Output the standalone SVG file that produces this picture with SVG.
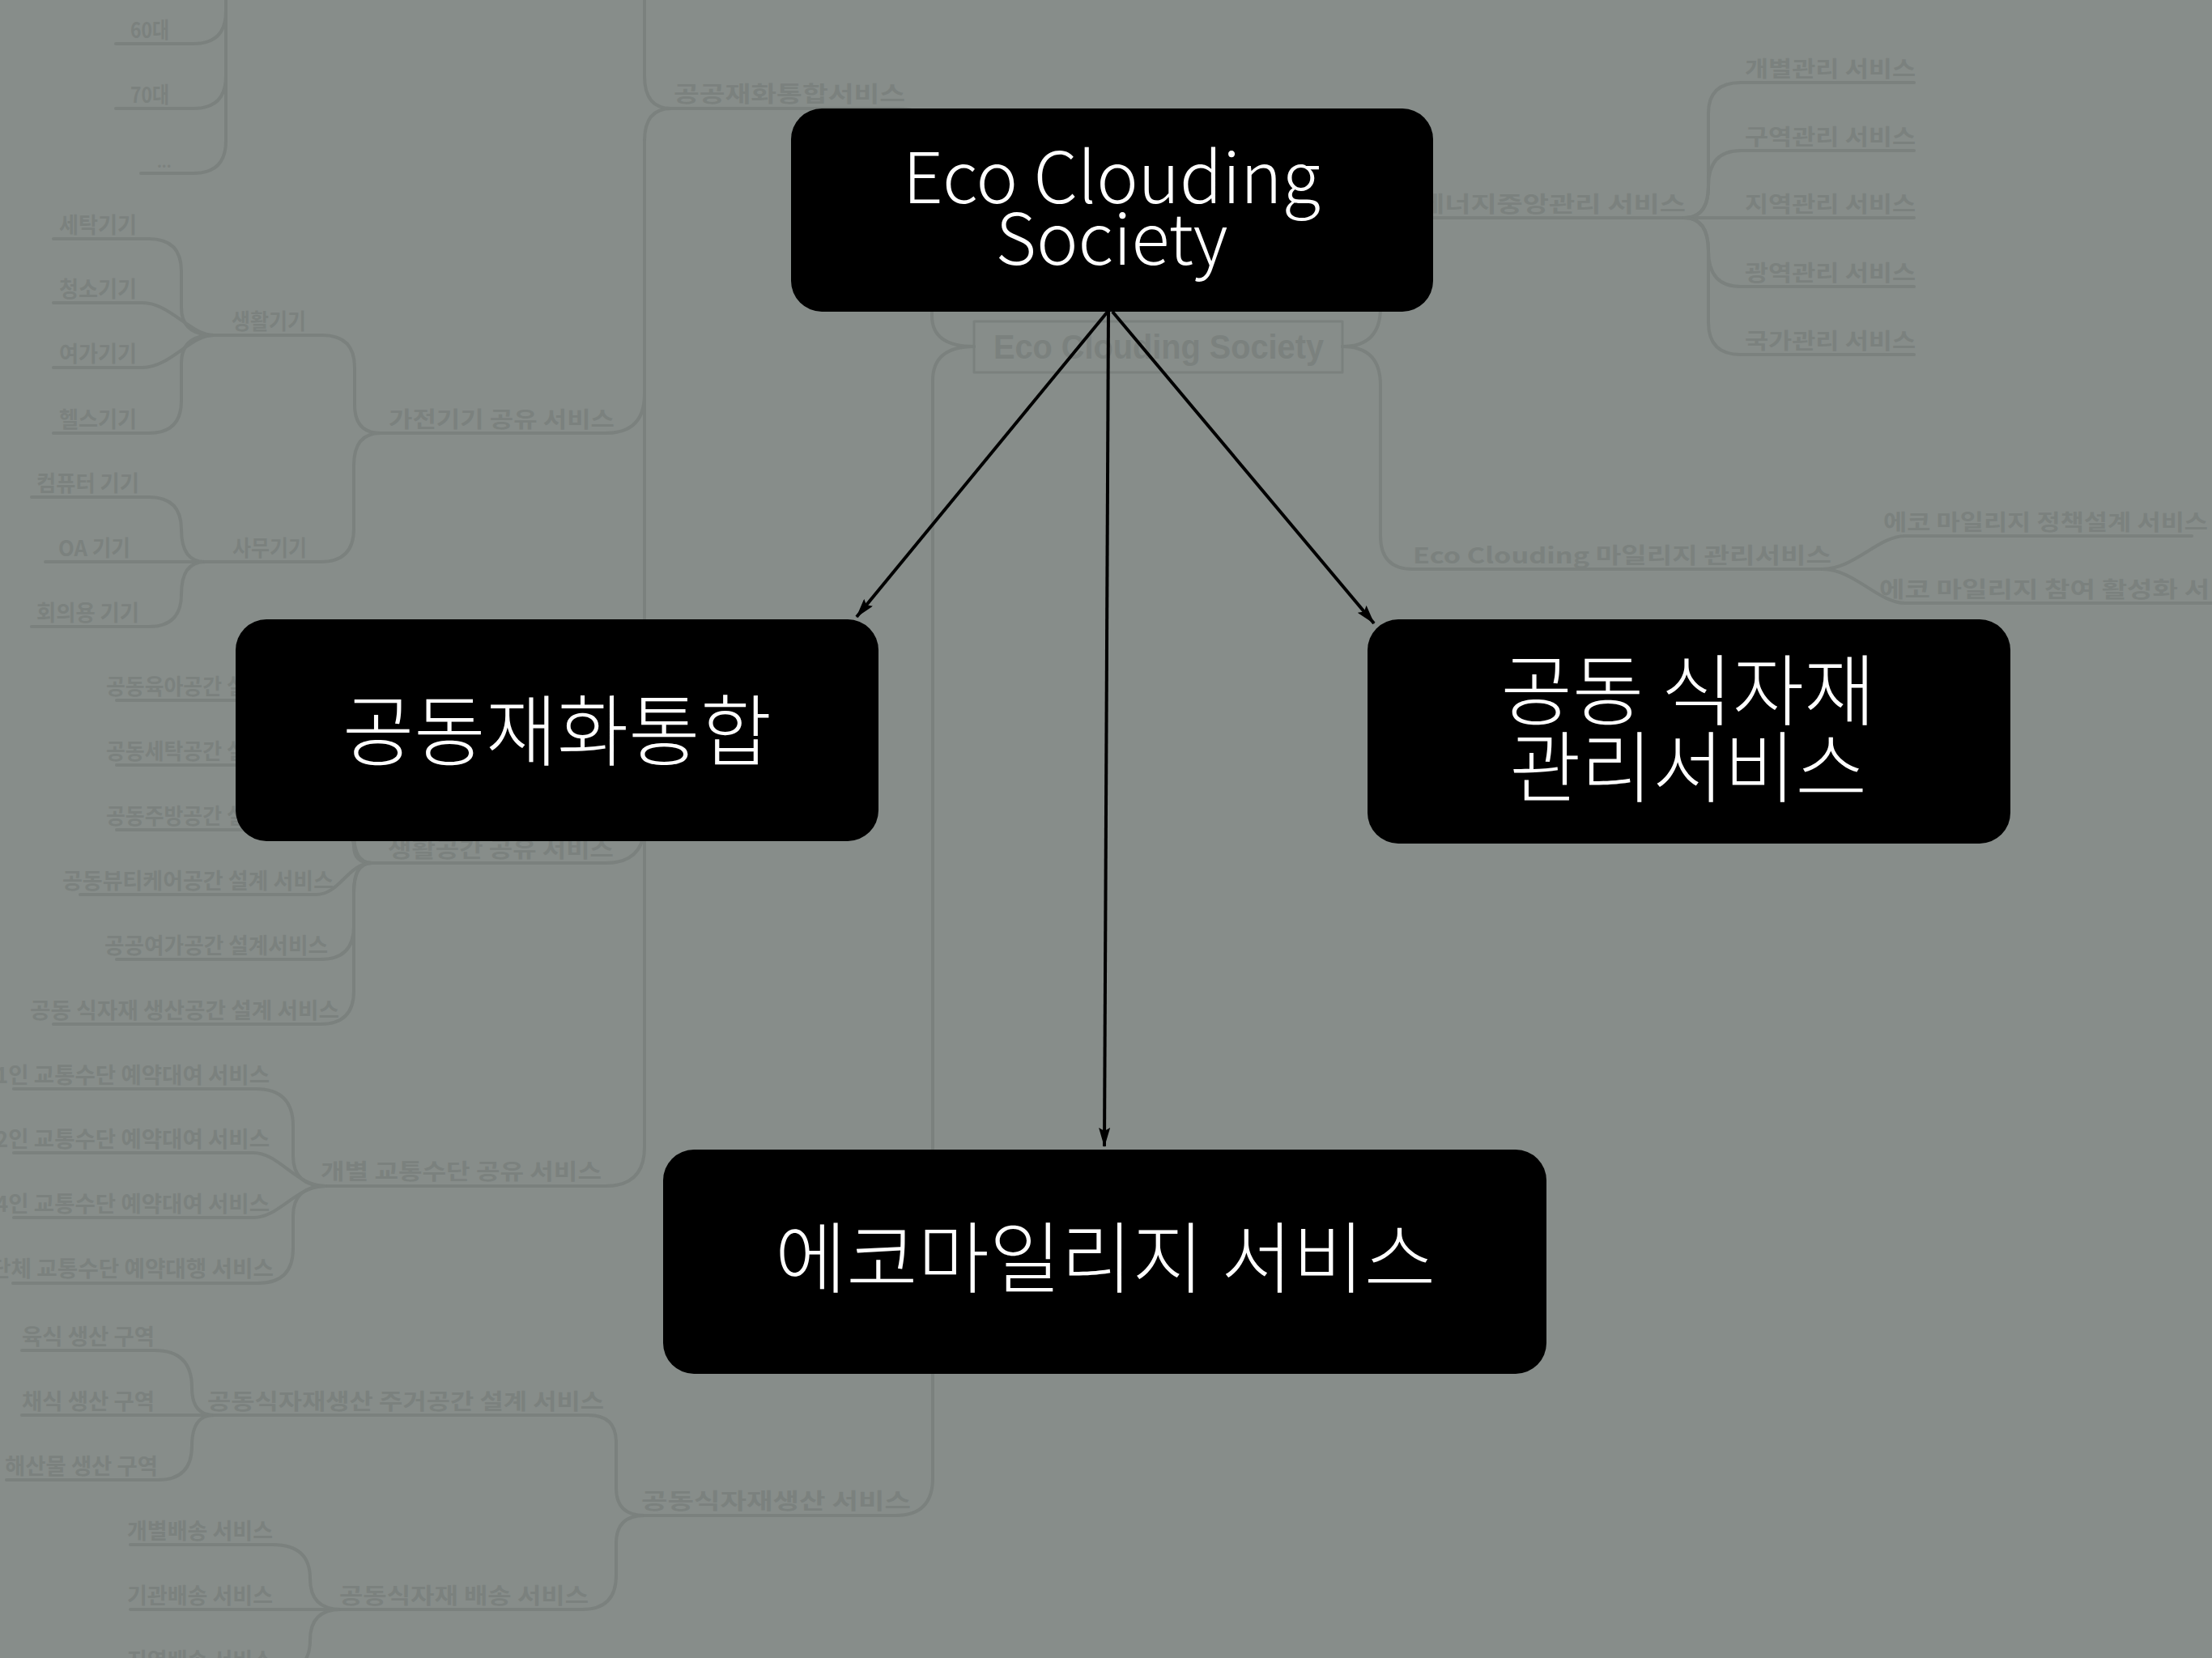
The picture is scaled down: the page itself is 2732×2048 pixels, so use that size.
<svg xmlns="http://www.w3.org/2000/svg" width="2732" height="2048" viewBox="0 0 2732 2048">
<style>
.bgl{fill:none;stroke:#7b817e;stroke-width:4;stroke-linecap:round;stroke-linejoin:round}
.bgt{font-family:"Noto Sans CJK KR","Liberation Sans",sans-serif;font-weight:700;font-size:27px;fill:#7b817e}
.box{fill:#000}
.lbl{font-family:"Noto Sans CJK KR","Noto Sans",sans-serif;fill:#fff;text-anchor:middle}
.conn{fill:none;stroke:#000;stroke-width:4}
</style>
<defs>
<marker id="ah" markerUnits="userSpaceOnUse" viewBox="0 0 24 14" markerWidth="24" markerHeight="14" refX="23" refY="7" orient="auto">
<path d="M0,0 L24,7 L0,14 L4,7 z" fill="#000"/>
</marker>
</defs>
<rect width="2732" height="2048" fill="#878d8a"/>
<g id="background-mindmap">
<g class="bgl">
<path d="M143,54 H239 Q279,54 279,14 V-60"/>
<path d="M143,134 H239 Q279,134 279,94 V-60"/>
<path d="M174,214 H239 Q279,214 279,174 V-60"/>
<path d="M66,295 H184 Q224,295 224,335 V380 Q224,414 264,414"/>
<path d="M66,374 H176 C210,374 235,414 264,414"/>
<path d="M66,454 H176 C210,454 235,414 264,414"/>
<path d="M66,535 H184 Q224,535 224,495 V448 Q224,414 264,414"/>
<path d="M264,414 H398 Q438,414 438,454 V500 Q438,535 470,535"/>
<path d="M39,614 H184 Q224,614 224,654 Q224,694 253,694"/>
<path d="M56,694 H253"/>
<path d="M39,774 H184 Q224,774 224,734 Q224,694 253,694"/>
<path d="M253,694 H396 Q437,694 437,653 V575 Q437,535 470,535"/>
<path d="M460,535 H748 Q796,535 796,487 V174 Q796,134 829,134"/>
<path d="M796,-60 V94 Q796,134 829,134"/>
<path d="M829,134 H1110 Q1151,134 1151,175 V390 Q1151,428 1203,428"/>
<path d="M144,865 H396 Q437,865 437,906 V1030 Q437,1066 459,1066"/>
<path d="M144,945 H396 Q437,945 437,986 V1030 Q437,1066 459,1066"/>
<path d="M144,1025 H396 Q437,1025 437,1045 Q437,1066 459,1066"/>
<path d="M99,1105 H390 C420,1105 430,1066 459,1066"/>
<path d="M144,1185 H396 Q437,1185 437,1144 V1102 Q437,1066 459,1066"/>
<path d="M66,1265 H396 Q437,1265 437,1224 V1102 Q437,1066 459,1066"/>
<path d="M459,1066 H748 Q796,1066 796,1018 V174"/>
<path d="M402,1465 H748 Q796,1465 796,1417 V174"/>
<path d="M17,1345 H316 Q362,1345 362,1391 V1428 Q362,1465 402,1465"/>
<path d="M17,1424 H313 C345,1424 365,1465 402,1465"/>
<path d="M17,1504 H313 C345,1504 365,1465 402,1465"/>
<path d="M16,1585 H319 Q362,1585 362,1542 V1502 Q362,1465 402,1465"/>
<path d="M27,1668 H191 Q237,1668 237,1714 Q237,1748 264,1748"/>
<path d="M27,1748 H264"/>
<path d="M8,1828 H195 Q237,1828 237,1786 Q237,1748 264,1748"/>
<path d="M264,1748 H727 Q761,1748 761,1782 V1838 Q761,1872 796,1872"/>
<path d="M161,1908 H337 Q383,1908 383,1950 Q383,1988 421,1988"/>
<path d="M161,1988 H421"/>
<path d="M161,2068 H337 Q383,2068 383,2026 Q383,1988 421,1988"/>
<path d="M421,1988 H719 Q761,1988 761,1946 V1906 Q761,1872 796,1872"/>
<path d="M796,1872 H1106 Q1152,1872 1152,1826 V470 Q1152,428 1203,428"/>
<path d="M1658,428 Q1705,428 1705,380 V310 Q1705,269 1745,269 H2080"/>
<path d="M1658,428 Q1705,428 1705,476 V662 Q1705,703 1745,703 H2251"/>
<path d="M2080,269 Q2110,269 2110,230 V140 Q2110,102 2150,102 H2364"/>
<path d="M2080,269 Q2110,269 2110,230 Q2110,186 2150,186 H2364"/>
<path d="M2080,269 H2364"/>
<path d="M2080,269 Q2110,269 2110,310 Q2110,354 2150,354 H2364"/>
<path d="M2080,269 Q2110,269 2110,310 V398 Q2110,438 2150,438 H2364"/>
<path d="M2251,703 C2290,703 2320,662 2353,662 H2707"/>
<path d="M2251,703 C2290,703 2320,745 2353,745 H2760"/>
<rect x="1203" y="397" width="455" height="63" stroke-width="3"/>
</g>
<g class="bgt">
<text x="161" y="47" textLength="48" lengthAdjust="spacingAndGlyphs">60대</text>
<text x="161" y="127" textLength="48" lengthAdjust="spacingAndGlyphs">70대</text>
<text x="194" y="207" font-size="18">...</text>
<text x="73" y="288" textLength="96" lengthAdjust="spacingAndGlyphs">세탁기기</text>
<text x="73" y="367" textLength="96" lengthAdjust="spacingAndGlyphs">청소기기</text>
<text x="286" y="407" textLength="92" lengthAdjust="spacingAndGlyphs">생활기기</text>
<text x="73" y="447" textLength="96" lengthAdjust="spacingAndGlyphs">여가기기</text>
<text x="73" y="528" textLength="96" lengthAdjust="spacingAndGlyphs">헬스기기</text>
<text x="480" y="528" textLength="279" lengthAdjust="spacingAndGlyphs">가전기기 공유 서비스</text>
<text x="832" y="126" textLength="286" lengthAdjust="spacingAndGlyphs">공공재화통합서비스</text>
<text x="45" y="607" textLength="127" lengthAdjust="spacingAndGlyphs">컴퓨터 기기</text>
<text x="72" y="687" textLength="89" lengthAdjust="spacingAndGlyphs">OA 기기</text>
<text x="287" y="687" textLength="92" lengthAdjust="spacingAndGlyphs">사무기기</text>
<text x="45" y="767" textLength="127" lengthAdjust="spacingAndGlyphs">회의용 기기</text>
<text x="131" y="858" textLength="274" lengthAdjust="spacingAndGlyphs">공동육아공간 설계 서비스</text>
<text x="131" y="938" textLength="274" lengthAdjust="spacingAndGlyphs">공동세탁공간 설계 서비스</text>
<text x="131" y="1018" textLength="274" lengthAdjust="spacingAndGlyphs">공동주방공간 설계 서비스</text>
<text x="479" y="1059" textLength="279" lengthAdjust="spacingAndGlyphs">생활공간 공유 서비스</text>
<text x="77" y="1098" textLength="335" lengthAdjust="spacingAndGlyphs">공동뷰티케어공간 설계 서비스</text>
<text x="129" y="1178" textLength="276" lengthAdjust="spacingAndGlyphs">공공여가공간 설계서비스</text>
<text x="37" y="1258" textLength="382" lengthAdjust="spacingAndGlyphs">공동 식자재 생산공간 설계 서비스</text>
<text x="-6" y="1338" textLength="339" lengthAdjust="spacingAndGlyphs">1인 교통수단 예약대여 서비스</text>
<text x="-6" y="1417" textLength="339" lengthAdjust="spacingAndGlyphs">2인 교통수단 예약대여 서비스</text>
<text x="-6" y="1497" textLength="339" lengthAdjust="spacingAndGlyphs">4인 교통수단 예약대여 서비스</text>
<text x="-12" y="1577" textLength="350" lengthAdjust="spacingAndGlyphs">단체 교통수단 예약대행 서비스</text>
<text x="396" y="1457" textLength="347" lengthAdjust="spacingAndGlyphs">개별 교통수단 공유 서비스</text>
<text x="27" y="1661" textLength="164" lengthAdjust="spacingAndGlyphs">육식 생산 구역</text>
<text x="27" y="1741" textLength="164" lengthAdjust="spacingAndGlyphs">채식 생산 구역</text>
<text x="6" y="1821" textLength="189" lengthAdjust="spacingAndGlyphs">해산물 생산 구역</text>
<text x="256" y="1741" textLength="490" lengthAdjust="spacingAndGlyphs">공동식자재생산 주거공간 설계 서비스</text>
<text x="792" y="1864" textLength="333" lengthAdjust="spacingAndGlyphs">공동식자재생산 서비스</text>
<text x="157" y="1901" textLength="180" lengthAdjust="spacingAndGlyphs">개별배송 서비스</text>
<text x="157" y="1981" textLength="180" lengthAdjust="spacingAndGlyphs">기관배송 서비스</text>
<text x="419" y="1981" textLength="308" lengthAdjust="spacingAndGlyphs">공동식자재 배송 서비스</text>
<text x="157" y="2061" textLength="180" lengthAdjust="spacingAndGlyphs">지역배송 서비스</text>
<text x="1752" y="262" textLength="330" lengthAdjust="spacingAndGlyphs">에너지중앙관리 서비스</text>
<text x="2155" y="95" textLength="211" lengthAdjust="spacingAndGlyphs">개별관리 서비스</text>
<text x="2155" y="179" textLength="211" lengthAdjust="spacingAndGlyphs">구역관리 서비스</text>
<text x="2155" y="262" textLength="211" lengthAdjust="spacingAndGlyphs">지역관리 서비스</text>
<text x="2155" y="347" textLength="211" lengthAdjust="spacingAndGlyphs">광역관리 서비스</text>
<text x="2155" y="431" textLength="211" lengthAdjust="spacingAndGlyphs">국가관리 서비스</text>
<text x="1745" y="696" textLength="517" lengthAdjust="spacingAndGlyphs">Eco Clouding 마일리지 관리서비스</text>
<text x="2326" y="655" textLength="401" lengthAdjust="spacingAndGlyphs">에코 마일리지 정책설계 서비스</text>
<text x="2321" y="738" textLength="471" lengthAdjust="spacingAndGlyphs">에코 마일리지 참여 활성화 서비스</text>
<text x="1227" y="443" font-family="Liberation Sans, Arial, sans-serif" font-size="42" textLength="408" lengthAdjust="spacingAndGlyphs">Eco Clouding Society</text>
</g>
</g>
<g id="connectors">
<line class="conn" x1="1368" y1="385" x2="1058" y2="762" marker-end="url(#ah)"/>
<line class="conn" x1="1369" y1="385" x2="1364" y2="1416" marker-end="url(#ah)"/>
<line class="conn" x1="1374" y1="385" x2="1697" y2="770" marker-end="url(#ah)"/>
</g>
<g id="node-eco-clouding-society">
<rect class="box" x="977" y="134" width="793" height="251" rx="38"/>
<text class="lbl" font-size="87" font-weight="300" x="1373" y="251">Eco Clouding</text>
<text class="lbl" font-size="87" font-weight="300" x="1373" y="327">Society</text>
</g>
<g id="node-common-goods">
<rect class="box" x="291" y="765" width="794" height="274" rx="38"/>
<text class="lbl" font-size="96" font-weight="300" x="688" y="938">공동재화통합</text>
</g>
<g id="node-food-management">
<rect class="box" x="1689" y="765" width="794" height="277" rx="38"/>
<text class="lbl" font-size="96" font-weight="300" x="2085" y="888">공동 식자재</text>
<text class="lbl" font-size="96" font-weight="300" x="2085" y="983">관리서비스</text>
</g>
<g id="node-eco-mileage">
<rect class="box" x="819" y="1420" width="1091" height="277" rx="38"/>
<text class="lbl" font-size="96" font-weight="300" x="1365" y="1589">에코마일리지 서비스</text>
</g>
</svg>
